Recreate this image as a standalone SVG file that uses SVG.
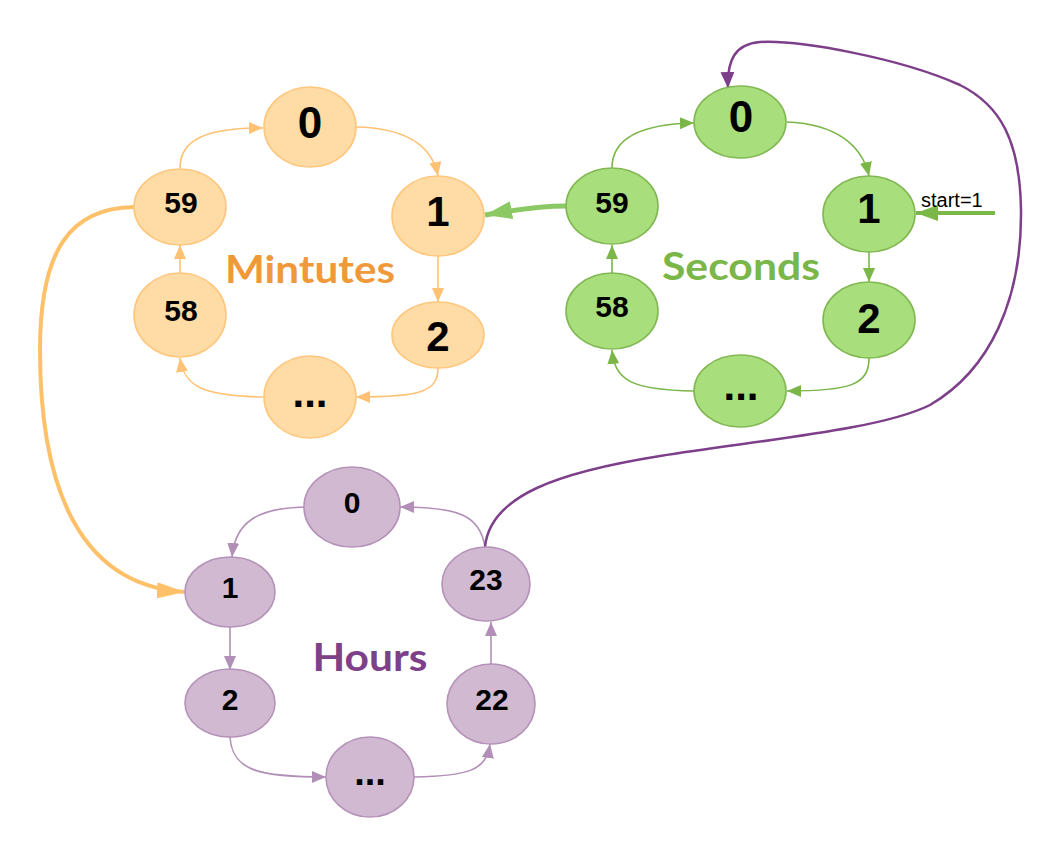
<svg xmlns="http://www.w3.org/2000/svg" width="1063" height="857" viewBox="0 0 1063 857">
<style>
.n{font-family:"Liberation Sans",Arial,sans-serif;font-weight:bold;fill:#000;text-anchor:middle}
.big{font-size:44px}.mid{font-size:42px}.sm{font-size:30px}
.lbl{font-family:"Comic Sans MS","Lato","Noto Sans",sans-serif;font-weight:bold;text-anchor:middle}
.mn{fill:#FFDBA6;stroke:#FFC77E;stroke-width:1.6}
.sc{fill:#A8DE7B;stroke:#82B853;stroke-width:1.6}
.hr{fill:#D1B9D2;stroke:#B592B8;stroke-width:1.6}
.eo{fill:none;stroke:#FFC274;stroke-width:1.6}
.eg{fill:none;stroke:#7AB648;stroke-width:1.6}
.ep{fill:none;stroke:#B28FB7;stroke-width:1.6}
</style>
<defs>
<marker id="ao" markerUnits="userSpaceOnUse" markerWidth="14" markerHeight="12" refX="14" refY="6" orient="auto"><path d="M0,0L14,6L0,12z" fill="#FFC274"/></marker>
<marker id="ag" markerUnits="userSpaceOnUse" markerWidth="14" markerHeight="12" refX="14" refY="6" orient="auto"><path d="M0,0L14,6L0,12z" fill="#7AB648"/></marker>
<marker id="ap" markerUnits="userSpaceOnUse" markerWidth="14" markerHeight="12" refX="14" refY="6" orient="auto"><path d="M0,0L14,6L0,12z" fill="#B28FB7"/></marker>
<marker id="aG" markerUnits="userSpaceOnUse" markerWidth="27" markerHeight="18" refX="27" refY="9" orient="auto"><path d="M0,0L27,9L0,18z" fill="#8CC863"/></marker>
<marker id="aS" markerUnits="userSpaceOnUse" markerWidth="22" markerHeight="16" refX="22" refY="8" orient="auto"><path d="M0,0L22,8L0,16z" fill="#7AB648"/></marker>
<marker id="aO" markerUnits="userSpaceOnUse" markerWidth="28" markerHeight="16" refX="28" refY="8" orient="auto"><path d="M0,0L28,8L0,16z" fill="#FFC06A"/></marker>
<marker id="aP" markerUnits="userSpaceOnUse" markerWidth="16" markerHeight="14" refX="16" refY="7" orient="auto"><path d="M0,0L16,7L0,14z" fill="#7E3F8A"/></marker>
</defs>

<g id="connectors">
<!-- minutes -->
<path class="eo" d="M180,168 C180,140 205,128 263,128" marker-end="url(#ao)"/>
<path class="eo" d="M356,127 C405,128 432,145 438,176" marker-end="url(#ao)"/>
<path class="eo" d="M438,256 L438,302" marker-end="url(#ao)"/>
<path class="eo" d="M438,368 C438,392 420,397 356,397" marker-end="url(#ao)"/>
<path class="eo" d="M263,397 C200,396 184,385 180,358" marker-end="url(#ao)"/>
<path class="eo" d="M180,273 L180,245" marker-end="url(#ao)"/>
<!-- seconds -->
<path class="eg" d="M612,168 C612,138 640,124 694,123" marker-end="url(#ag)"/>
<path class="eg" d="M787,122 C836,124 862,145 869,176" marker-end="url(#ag)"/>
<path class="eg" d="M869,252 L869,282" marker-end="url(#ag)"/>
<path class="eg" d="M869,358 C869,385 850,391 787,391" marker-end="url(#ag)"/>
<path class="eg" d="M694,391 C630,390 615,380 612,350" marker-end="url(#ag)"/>
<path class="eg" d="M612,273 L612,245" marker-end="url(#ag)"/>
<!-- hours -->
<path class="ep" d="M304,507 C258,508 235,522 232,557" marker-end="url(#ap)"/>
<path class="ep" d="M230,627 L230,670" marker-end="url(#ap)"/>
<path class="ep" d="M230,737 C232,772 262,777 326,777" marker-end="url(#ap)"/>
<path class="ep" d="M414,777 C470,776 486,770 490,744" marker-end="url(#ap)"/>
<path class="ep" d="M491,664 L491,622" marker-end="url(#ap)"/>
<path class="ep" d="M485,547 C480,515 458,507 400,507" marker-end="url(#ap)"/>
<!-- cross -->
<path d="M566,206 C540,206 518,209 485,215" fill="none" stroke="#8CC863" stroke-width="5" marker-end="url(#aG)"/>
<path d="M995,213 L916,213" fill="none" stroke="#7AB648" stroke-width="4" marker-end="url(#aS)"/>
<path d="M134,207 C70,208 40,250 40,350 C40,470 70,585 185,592" fill="none" stroke="#FFC06A" stroke-width="4" marker-end="url(#aO)"/>
<path d="M485,547 C490,495 560,472 660,456 C760,440 880,430 930,405 C990,370 1022,300 1021,210 C1020,140 1000,105 960,85 C900,58 800,40 760,42 C735,44 727,60 728,88" fill="none" stroke="#7E3F8A" stroke-width="2.5" marker-end="url(#aP)"/>
<text x="921" y="207" font-family="Liberation Sans, Arial, sans-serif" font-size="20" fill="#000">start=1</text>
</g>

<!-- Minutes -->
<g id="m0"><ellipse class="mn" cx="310" cy="127" rx="46" ry="40"/><text class="n big" x="310" y="138">0</text></g>
<g id="m1"><ellipse class="mn" cx="438" cy="216" rx="46" ry="40"/><text class="n mid" x="438" y="226">1</text></g>
<g id="m2"><ellipse class="mn" cx="438" cy="335" rx="46" ry="33"/><text class="n mid" x="438" y="351">2</text></g>
<g id="mdots"><ellipse class="mn" cx="310" cy="397" rx="46" ry="41"/><text class="n mid" x="310" y="407">...</text></g>
<g id="m58"><ellipse class="mn" cx="180" cy="315" rx="46" ry="42"/><text class="n sm" x="181" y="321">58</text></g>
<g id="m59"><ellipse class="mn" cx="180" cy="207" rx="46" ry="38"/><text class="n sm" x="181" y="213">59</text></g>
<g id="mlabel"><text class="lbl" x="310" y="283" font-size="38" fill="#F0993B" textLength="170" lengthAdjust="spacingAndGlyphs">Mintutes</text></g>

<!-- Seconds -->
<g id="s0"><ellipse class="sc" cx="740" cy="122" rx="46" ry="36"/><text class="n big" x="741" y="132">0</text></g>
<g id="s1"><ellipse class="sc" cx="869" cy="214" rx="46" ry="38"/><text class="n mid" x="869" y="223">1</text></g>
<g id="s2"><ellipse class="sc" cx="869" cy="320" rx="46" ry="38"/><text class="n mid" x="869" y="333">2</text></g>
<g id="sdots"><ellipse class="sc" cx="740" cy="391" rx="46" ry="36"/><text class="n mid" x="741" y="400">...</text></g>
<g id="s58"><ellipse class="sc" cx="612" cy="311" rx="46" ry="38"/><text class="n sm" x="612" y="317">58</text></g>
<g id="s59"><ellipse class="sc" cx="612" cy="206" rx="46" ry="38"/><text class="n sm" x="612" y="213">59</text></g>
<g id="slabel"><text class="lbl" x="741" y="280" font-size="38" fill="#7AB648" textLength="158" lengthAdjust="spacingAndGlyphs">Seconds</text></g>

<!-- Hours -->
<g id="h0"><ellipse class="hr" cx="352" cy="507" rx="48" ry="40"/><text class="n sm" x="352" y="513">0</text></g>
<g id="h1"><ellipse class="hr" cx="230" cy="592" rx="45" ry="35"/><text class="n sm" x="230" y="598">1</text></g>
<g id="h2"><ellipse class="hr" cx="230" cy="703" rx="45" ry="34"/><text class="n sm" x="230" y="710">2</text></g>
<g id="hdots"><ellipse class="hr" cx="370" cy="777" rx="44" ry="40"/><text class="n" font-size="38" x="370" y="785">...</text></g>
<g id="h22"><ellipse class="hr" cx="491" cy="704" rx="44" ry="40"/><text class="n sm" x="492" y="710">22</text></g>
<g id="h23"><ellipse class="hr" cx="486" cy="584" rx="44" ry="37"/><text class="n sm" x="486" y="590">23</text></g>
<g id="hlabel"><text class="lbl" x="370" y="671" font-size="38" fill="#7E4088" textLength="115" lengthAdjust="spacingAndGlyphs">Hours</text></g>
</svg>
